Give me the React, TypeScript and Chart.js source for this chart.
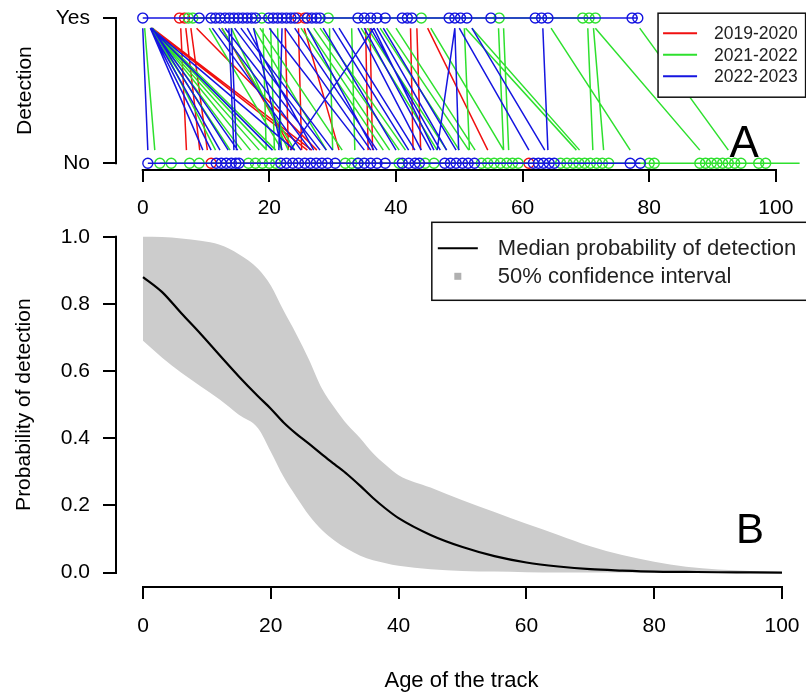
import React, { useEffect, useRef } from 'react';
import { Chart, registerables } from 'chart.js';

Chart.register(...registerables);

const FONT = '"Liberation Sans", Arial, Helvetica, sans-serif';

// ---------- shared axis data ----------
const ageTicks = [0, 20, 40, 60, 80, 100];
const detectionTicks = [0, 1];
const detectionLabels = ['No', 'Yes'];
const probabilityTicks = [0, 0.2, 0.4, 0.6, 0.8, 1.0];

// ---------- panel A ----------
const seasons = ['2019-2020', '2021-2022', '2022-2023'];
const seasonColors = ['#f01010', '#2ee02e', '#1515e0'];

// ages of "Yes" (detected) observations
const yes2019 = [5.8, 6.6, 24.5, 25.6];
const yes2021 = [7.2, 7.9, 18.8, 29.3, 44, 56.3, 69.5, 70.5, 71.5];
const yes2022 = [0, 8.9, 10.8, 11.5, 12.2, 13, 13.7, 14.4, 15.1, 15.8, 16.5, 17.2, 17.8, 19.9, 20.6, 21.3, 22, 22.7, 23.4, 24, 26, 26.7, 27.4, 28, 34, 35, 36, 37, 38.3, 41, 41.8, 42.5, 48.4, 49.3, 50.2, 51.2, 55, 62, 63, 64, 77.3, 78.2];

// ages of "No" (not detected) observations
const no2019 = [10.8, 61];
const no2021 = [2.7, 4.5, 7.4, 8.9, 16.7, 17.8, 18.9, 20, 21, 32, 33, 34, 40.5, 44.6, 46, 53.5, 54.5, 55.5, 56.5, 57.5, 58.4, 59.3, 66, 67, 68, 68.9, 69.8, 70.7, 71.7, 72.6, 73.6, 80, 80.8, 88, 88.9, 89.8, 90.7, 91.6, 92.5, 93.5, 94.5, 97.3, 98.4, 105];
const no2022 = [0.8, 11.6, 12.4, 13.2, 14, 14.7, 15.2, 21.8, 22.7, 23.7, 24.6, 25.6, 26.5, 27.4, 28.3, 29.2, 30.4, 34, 35, 36, 37, 38.3, 41, 42, 43, 43.7, 47.7, 48.6, 49.5, 50.5, 51.4, 52.4, 61.7, 62.5, 63.3, 64.2, 65, 77, 78.6];

// transitions Yes -> No : [age at detection, age at non-detection]
const drops2019: [number, number][] = [
  [6.0, 6.9], [6.8, 9.0], [7.6, 10.2], [1.3, 26.0], [1.5, 26.7], [8.5, 27.5], [12.5, 23.6],
  [22.5, 23.0], [24.6, 25.1], [25.5, 31.0], [35.2, 35.6], [35.9, 36.3], [42.3, 42.7], [43.3, 43.9], [45.0, 54.5],
];
const drops2021: [number, number][] = [
  [0.3, 1.9], [1.2, 13.8], [1.2, 15.6], [1.3, 17.0], [1.3, 18.4], [1.4, 19.6], [1.5, 21.0], [1.6, 11.5],
  [10.5, 22.0], [12.5, 24.0], [14.0, 23.0], [17.5, 29.0], [18.5, 31.5], [19.0, 19.5], [20.2, 20.8], [21.3, 21.9],
  [25.0, 38.0], [26.0, 39.0], [27.0, 40.5], [28.0, 41.5], [29.5, 30.0], [33.0, 33.5], [34.5, 46.5], [35.5, 48.0],
  [37.5, 50.0], [38.5, 51.5], [40.0, 52.5], [45.5, 57.0], [50.8, 51.6], [51.0, 68.5], [52.0, 69.0], [56.2, 57.0],
  [57.0, 57.8], [64.5, 77.0], [70.3, 71.1], [71.2, 72.8], [71.5, 88.0], [78.5, 92.5],
];
const drops2022: [number, number][] = [
  [0, 0.8], [1.2, 9.5], [1.2, 10.8], [1.2, 12.2], [1.5, 13.5], [1.5, 15.0], [1.3, 20.5], [1.3, 24.0],
  [11.0, 25.0], [12.0, 26.5], [13.0, 28.0], [14.5, 29.0], [15.5, 30.0], [16.5, 27.0], [13.6, 14.4], [14.0, 14.8],
  [17.5, 22.0], [22.0, 21.5], [20.0, 35.0], [22.5, 36.0], [24.0, 37.0], [26.0, 36.5], [28.5, 40.0], [30.0, 42.0],
  [31.0, 43.0], [34.0, 44.0], [35.0, 45.5], [36.0, 47.0], [36.5, 46.0], [37.0, 48.0], [38.0, 49.5], [49.3, 49.9],
  [50.0, 61.0], [52.0, 63.5], [63.2, 64.0],
];
// transitions No -> Yes : [age at non-detection, age at detection]
const rises2022: [number, number][] = [[23.3, 36.5], [46.5, 49.3]];

// ---------- panel B ----------
const bandAges = [0, 3, 6, 9, 12, 15, 18, 20, 22, 24, 26, 28, 30, 32, 34, 36, 38, 40, 45, 50, 55, 60, 65, 70, 75, 80, 85, 90, 95, 100];
const medianProb = [0.88, 0.835, 0.772, 0.711, 0.647, 0.584, 0.525, 0.488, 0.447, 0.413, 0.383, 0.352, 0.322, 0.292, 0.258, 0.222, 0.19, 0.162, 0.112, 0.076, 0.049, 0.03, 0.018, 0.01, 0.006, 0.003, 0.002, 0.001, 0.0005, 0];
const upperProb = [1.0, 0.999, 0.995, 0.988, 0.976, 0.948, 0.905, 0.855, 0.78, 0.71, 0.633, 0.548, 0.49, 0.44, 0.4, 0.355, 0.32, 0.29, 0.253, 0.215, 0.18, 0.145, 0.112, 0.078, 0.052, 0.032, 0.017, 0.009, 0.005, 0.002];
const lowerProb = [0.69, 0.64, 0.595, 0.555, 0.515, 0.47, 0.43, 0.36, 0.285, 0.225, 0.17, 0.127, 0.095, 0.07, 0.05, 0.037, 0.028, 0.02, 0.01, 0.005, 0.003, 0.001, 0, 0, 0, 0, 0, 0, 0, 0];
const bandLabels = ['Median probability of detection', '50% confidence interval'];

// visible ends of the transition segments (drawn shortened between the rows)
const SEG_TOP = 0.93;
const SEG_BOTTOM = 0.09;

function segmentData(drops: [number, number][], rises: [number, number][]) {
  const out: { x: number; y: number | null }[] = [];
  drops.forEach(([a, b]) => {
    out.push({ x: a, y: SEG_TOP }, { x: b, y: SEG_BOTTOM }, { x: b, y: null });
  });
  rises.forEach(([a, b]) => {
    out.push({ x: a, y: SEG_BOTTOM }, { x: b, y: SEG_TOP }, { x: b, y: null });
  });
  return out;
}

function rowData(ages: number[], level: number) {
  return ages.map((a) => ({ x: a, y: level }));
}

const rAxesPlugin = {
  id: 'rAxes',
  afterDraw(chart: any) {
    const { ctx, chartArea, scales } = chart;
    const xs = scales.x;
    const ys = scales.y;
    const xt = xs.ticks;
    const yt = ys.ticks;
    ctx.save();
    ctx.strokeStyle = '#000';
    ctx.lineWidth = 2;
    ctx.lineCap = 'square';
    ctx.beginPath();
    ctx.moveTo(xs.getPixelForValue(xt[0].value), chartArea.bottom + 1);
    ctx.lineTo(xs.getPixelForValue(xt[xt.length - 1].value), chartArea.bottom + 1);
    ctx.moveTo(chartArea.left - 1, ys.getPixelForValue(yt[0].value));
    ctx.lineTo(chartArea.left - 1, ys.getPixelForValue(yt[yt.length - 1].value));
    ctx.stroke();
    ctx.restore();
  },
};

const panelAExtras = {
  id: 'panelAExtras',
  afterDatasetsDraw(chart: any) {
    const { ctx, chartArea, scales } = chart;
    ctx.save();
    const left = scales.x.getPixelForValue(81.4);
    const top = chartArea.top + 1;
    const w = chartArea.right + 6 - left;
    const h = 84;
    ctx.fillStyle = '#ffffff';
    ctx.fillRect(left, top, w, h);
    ctx.strokeStyle = '#111';
    ctx.lineWidth = 1.5;
    ctx.strokeRect(left, top, w, h);
    ctx.font = `17.5px ${FONT}`;
    ctx.textBaseline = 'middle';
    ctx.textAlign = 'left';
    seasons.forEach((s, i) => {
      const y = top + 20 + i * 21.5;
      ctx.strokeStyle = seasonColors[i];
      ctx.lineWidth = 2;
      ctx.beginPath();
      ctx.moveTo(left + 5, y);
      ctx.lineTo(left + 39, y);
      ctx.stroke();
      ctx.fillStyle = '#222';
      ctx.fillText(s, left + 56, y + 1);
    });
    ctx.fillStyle = '#000';
    ctx.font = `44px ${FONT}`;
    ctx.textAlign = 'center';
    ctx.textBaseline = 'alphabetic';
    ctx.fillText('A', scales.x.getPixelForValue(95), scales.y.getPixelForValue(0.04));
    ctx.restore();
  },
};

const panelBExtras = {
  id: 'panelBExtras',
  afterDatasetsDraw(chart: any) {
    const { ctx, chartArea, scales } = chart;
    ctx.save();
    const left = scales.x.getPixelForValue(45.2);
    const top = chartArea.top - 1;
    const w = chartArea.right + 6 - left;
    const h = 78;
    ctx.fillStyle = '#ffffff';
    ctx.fillRect(left, top, w, h);
    ctx.strokeStyle = '#111';
    ctx.lineWidth = 1.5;
    ctx.strokeRect(left, top, w, h);
    ctx.font = `22px ${FONT}`;
    ctx.textBaseline = 'middle';
    ctx.textAlign = 'left';
    const y1 = top + 26;
    const y2 = top + 54;
    ctx.strokeStyle = '#000';
    ctx.lineWidth = 2;
    ctx.beginPath();
    ctx.moveTo(left + 6, y1);
    ctx.lineTo(left + 46, y1);
    ctx.stroke();
    ctx.fillStyle = '#b0b0b0';
    ctx.fillRect(left + 22.5, y2 - 3.5, 7, 7);
    ctx.fillStyle = '#222';
    ctx.fillText(bandLabels[0], left + 66, y1 + 1);
    ctx.fillText(bandLabels[1], left + 66, y2 + 1);
    ctx.fillStyle = '#000';
    ctx.font = `42px ${FONT}`;
    ctx.textAlign = 'center';
    ctx.textBaseline = 'alphabetic';
    ctx.fillText('B', scales.x.getPixelForValue(95), scales.y.getPixelForValue(0.088));
    ctx.restore();
  },
};

const tickFont = { family: FONT, size: 21 };

function zeroPad(s: any) {
  s.paddingTop = 0;
  s.paddingBottom = 0;
  s.paddingLeft = 0;
  s.paddingRight = 0;
}

function xScale(height: number, padding: number, withTitle: boolean) {
  return {
    type: 'linear' as const,
    min: -4.07,
    max: 103.76,
    afterBuildTicks: (s: any) => {
      s.ticks = ageTicks.map((v) => ({ value: v }));
    },
    afterFit: (s: any) => {
      s.height = height;
      zeroPad(s);
    },
    grid: { display: true, drawOnChartArea: false, drawTicks: true, tickLength: 13, lineWidth: 2, color: '#000' },
    border: { display: false },
    ticks: { autoSkip: false, maxRotation: 0, color: '#000', font: tickFont, padding },
    title: withTitle
      ? { display: true, text: 'Age of the track', color: '#000', font: { family: FONT, size: 22, lineHeight: 1 }, padding: { top: 0, bottom: 0 } }
      : { display: false },
  };
}

export default function App() {
  const refA = useRef<HTMLCanvasElement>(null);
  const refB = useRef<HTMLCanvasElement>(null);

  useEffect(() => {
    const rows = [
      { yes: yes2019, no: no2019 },
      { yes: yes2021, no: no2021 },
      { yes: yes2022, no: no2022 },
    ];
    const segs = [segmentData(drops2019, []), segmentData(drops2021, []), segmentData(drops2022, rises2022)];
    const dsA: any[] = [];
    segs.forEach((d, i) => {
      dsA.push({
        label: seasons[i] + ' transitions',
        data: d,
        borderColor: seasonColors[i],
        borderWidth: 1.5,
        pointRadius: 0,
        spanGaps: false,
        fill: false,
        order: 10 - i,
      });
    });
    rows.forEach((r, i) => {
      [r.no, r.yes].forEach((ages, lvl) => {
        dsA.push({
          label: seasons[i] + (lvl ? ' yes' : ' no'),
          data: rowData(ages, lvl),
          borderColor: seasonColors[i],
          borderWidth: 1.6,
          pointRadius: 5,
          pointBorderWidth: 1.4,
          pointBorderColor: seasonColors[i],
          pointBackgroundColor: 'rgba(0,0,0,0)',
          fill: false,
          order: 5 - i,
        });
      });
    });

    const chartA = new Chart(refA.current!, {
      type: 'line',
      data: { datasets: dsA },
      plugins: [rAxesPlugin, panelAExtras],
      options: {
        animation: false,
        responsive: false,
        devicePixelRatio: 1,
        events: [],
        layout: { padding: { top: 12.2, left: 0, right: 0, bottom: 0 } },
        plugins: { legend: { display: false }, tooltip: { enabled: false } },
        scales: {
          x: xScale(63, 13.4, false),
          y: {
            type: 'linear',
            min: -0.04,
            max: 1.04,
            afterBuildTicks: (s: any) => {
              s.ticks = detectionTicks.map((v) => ({ value: v }));
            },
            afterFit: (s: any) => {
              s.width = 117;
              zeroPad(s);
            },
            grid: { display: true, drawOnChartArea: false, drawTicks: true, tickLength: 14, lineWidth: 2, color: '#000' },
            border: { display: false },
            ticks: {
              color: '#000',
              font: tickFont,
              padding: 13,
              callback: (v: any) => detectionLabels[detectionTicks.indexOf(Number(v))],
            },
            title: { display: true, text: 'Detection', color: '#000', font: { family: FONT, size: 21 }, padding: { top: 12.4, bottom: 0 } },
          },
        },
      } as any,
    });

    const chartB = new Chart(refB.current!, {
      type: 'line',
      data: {
        datasets: [
          {
            label: bandLabels[0],
            data: bandAges.map((a, i) => ({ x: a, y: medianProb[i] })),
            borderColor: '#000',
            borderWidth: 2.2,
            pointRadius: 0,
            cubicInterpolationMode: 'monotone',
            fill: false,
            order: 0,
          },
          {
            label: 'upper',
            data: bandAges.map((a, i) => ({ x: a, y: upperProb[i] })),
            borderWidth: 0,
            borderColor: 'rgba(0,0,0,0)',
            backgroundColor: '#cccccc',
            pointRadius: 0,
            cubicInterpolationMode: 'monotone',
            fill: '+1',
            order: 1,
          },
          {
            label: 'lower',
            data: bandAges.map((a, i) => ({ x: a, y: lowerProb[i] })),
            borderWidth: 0,
            borderColor: 'rgba(0,0,0,0)',
            pointRadius: 0,
            cubicInterpolationMode: 'monotone',
            fill: false,
            order: 2,
          },
        ],
      },
      plugins: [rAxesPlugin, panelBExtras],
      options: {
        animation: false,
        responsive: false,
        devicePixelRatio: 1,
        events: [],
        layout: { padding: { top: 8.3, left: 0, right: 0, bottom: 0 } },
        plugins: { legend: { display: false }, tooltip: { enabled: false } },
        scales: {
          x: xScale(106, 14.7, true),
          y: {
            type: 'linear',
            min: -0.04,
            max: 1.04,
            afterBuildTicks: (s: any) => {
              s.ticks = probabilityTicks.map((v) => ({ value: v }));
            },
            afterFit: (s: any) => {
              s.width = 117;
              zeroPad(s);
            },
            grid: { display: true, drawOnChartArea: false, drawTicks: true, tickLength: 14, lineWidth: 2, color: '#000' },
            border: { display: false },
            ticks: {
              color: '#000',
              font: tickFont,
              padding: 13,
              callback: (v: any) => Number(v).toFixed(1),
            },
            title: { display: true, text: 'Probability of detection', color: '#000', font: { family: FONT, size: 21 }, padding: { top: 11.5, bottom: 0 } },
          },
        },
      } as any,
    });

    return () => {
      chartA.destroy();
      chartB.destroy();
    };
  }, []);

  return (
    <div style={{ position: 'fixed', left: 0, top: 0, width: 806, height: 692, background: '#fff', overflow: 'hidden' }}>
      <canvas ref={refA} width={806} height={232} style={{ position: 'absolute', left: 0, top: 0, display: 'block' }} />
      <canvas ref={refB} width={806} height={477} style={{ position: 'absolute', left: 0, top: 215, display: 'block' }} />
    </div>
  );
}
